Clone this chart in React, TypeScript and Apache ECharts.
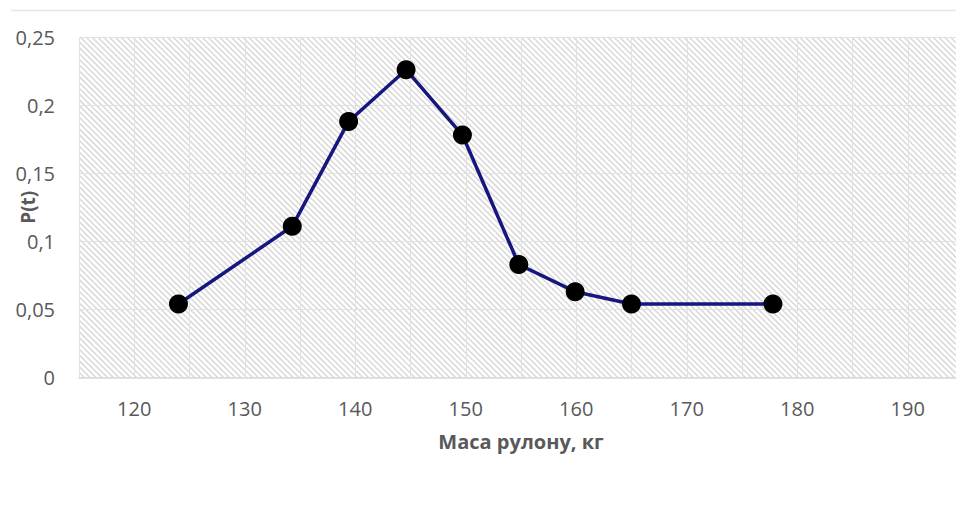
import React, { useEffect, useRef } from "react";
import * as echarts from "echarts";

const massKg = [124, 134.3, 139.4, 144.6, 149.7, 154.8, 159.9, 165, 177.8];
const probability = [0.054, 0.111, 0.188, 0.226, 0.178, 0.083, 0.063, 0.054, 0.054];
const xTitle = "Маса рулону, кг";
const yTitle = "P(t)";

const W = 956;
const H = 510;
const GRID = { left: 79, top: 37, right: -7, bottom: 132.5 };

function hatch() {
  const x0 = GRID.left;
  const y0 = GRID.top;
  const x1 = W;
  const y1 = H - GRID.bottom;
  const step = 5.8;
  const els: any[] = [];
  for (let c = y0 - x1; c <= y1 - x0; c += step) {
    const xa = Math.max(x0, y0 - c);
    const xb = Math.min(x1, y1 - c);
    if (xb <= xa) continue;
    els.push({
      type: "line",
      silent: true,
      z: -10,
      shape: { x1: xa, y1: xa + c, x2: xb, y2: xb + c },
      style: { stroke: "#dadada", lineWidth: 1.6 },
    });
  }
  els.push({
    type: "line",
    silent: true,
    z: -10,
    shape: { x1: 11, y1: 10.5, x2: W, y2: 10.5 },
    style: { stroke: "#e6e6e6", lineWidth: 1.5 },
  });
  return els;
}

export default function App() {
  const ref = useRef<HTMLDivElement>(null);
  useEffect(() => {
    if (!ref.current) return;
    const chart = echarts.init(ref.current, null, { renderer: "svg" });
    const font = "'Open Sans', sans-serif";
    chart.setOption({
      animation: false,
      backgroundColor: "#ffffff",
      grid: { ...GRID, containLabel: false, outerBoundsMode: "none" },
      graphic: hatch(),
      xAxis: {
        type: "value",
        min: 115,
        max: 195,
        interval: 5,
        name: xTitle,
        nameLocation: "middle",
        nameGap: 54,
        nameMoveOverlap: false,
        nameTextStyle: { fontFamily: font, fontSize: 20, fontWeight: "bold", color: "#595959" },
        axisLine: { show: true, lineStyle: { color: "#d9d9d9", width: 1.5 } },
        axisTick: { show: false },
        axisLabel: {
          margin: 21,
          fontFamily: font,
          fontSize: 20,
          color: "#595959",
          formatter: (v: number) => (v % 10 === 0 && v >= 120 && v <= 190 ? String(v) : ""),
        },
        splitLine: { show: true, lineStyle: { color: "#e2e2e2", width: 1 } },
      },
      yAxis: {
        type: "value",
        min: 0,
        max: 0.25,
        interval: 0.05,
        name: yTitle,
        nameLocation: "middle",
        nameRotate: 90,
        nameGap: 42,
        nameMoveOverlap: false,
        nameTextStyle: { fontFamily: font, fontSize: 19, fontWeight: "bold", color: "#595959" },
        axisLine: { show: false },
        axisTick: { show: false },
        axisLabel: {
          margin: 24,
          fontFamily: font,
          fontSize: 20,
          color: "#595959",
          formatter: (v: number) => String(+v.toFixed(2)).replace(".", ","),
        },
        splitLine: { show: true, lineStyle: { color: "#e2e2e2", width: 1 } },
      },
      series: [
        {
          type: "line",
          data: massKg.map((x, i) => [x, probability[i]]),
          symbol: "circle",
          symbolSize: 19,
          lineStyle: { color: "#16167e", width: 3.5 },
          itemStyle: { color: "#000000" },
          clip: false,
          z: 5,
        },
      ],
    });
    return () => chart.dispose();
  }, []);
  return (
    <div
      ref={ref}
      style={{ position: "fixed", left: 0, top: 0, width: W, height: H }}
    />
  );
}
